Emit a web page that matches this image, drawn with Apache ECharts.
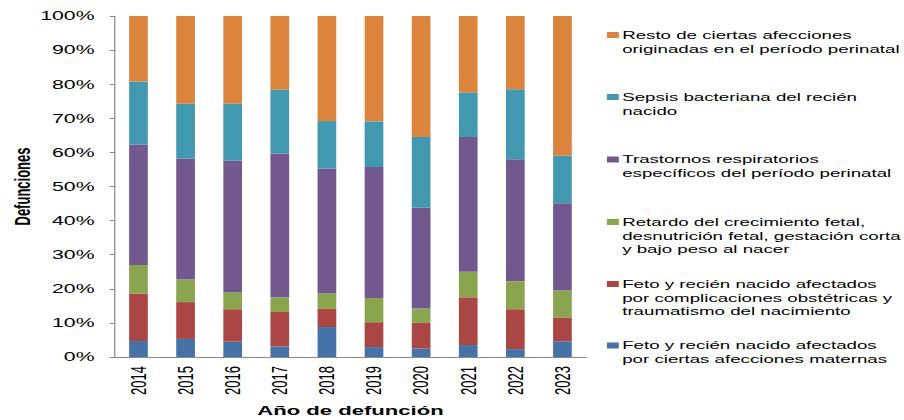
<!DOCTYPE html>
<html>
<head>
<meta charset="utf-8">
<script src="https://cdn.jsdelivr.net/npm/echarts@6/dist/echarts.min.js"></script>
<style>
  html, body { margin: 0; padding: 0; background: #fff; overflow: hidden; }
  /* the reference is a horizontally stretched chart, so draw narrow and stretch */
  #chart { width: 532px; height: 420px; transform: scaleX(1.7); transform-origin: 0 0; }
</style>
</head>
<body>
<div id="chart"></div>
<script>
var years = ['2014', '2015', '2016', '2017', '2018', '2019', '2020', '2021', '2022', '2023'];
var yTicks = [0, 10, 20, 30, 40, 50, 60, 70, 80, 90, 100];

// shares of deaths (%) per year, bottom to top of each bar
var maternas       = [4.7, 5.3, 4.5, 3.1, 8.8, 2.9, 2.5, 3.5, 2.3, 4.6];
var complicaciones = [13.9, 10.8, 9.5, 10.1, 5.3, 7.3, 7.5, 14.0, 11.7, 7.0];
var retardo        = [8.4, 6.6, 5.0, 4.3, 4.6, 7.1, 4.2, 7.5, 8.2, 7.9];
var respiratorios  = [35.3, 35.5, 38.6, 42.2, 36.6, 38.4, 29.6, 39.5, 35.8, 25.6];
var sepsis         = [18.5, 16.1, 16.7, 18.7, 13.9, 13.4, 20.7, 13.1, 20.5, 14.0];
var resto          = [19.2, 25.7, 25.7, 21.6, 30.8, 30.9, 35.5, 22.4, 21.5, 40.9];

var names = [
  'Feto y recién nacido afectados\npor ciertas afecciones maternas',
  'Feto y recién nacido afectados\npor complicaciones obstétricas y\ntraumatismo del nacimiento',
  'Retardo del crecimiento fetal,\ndesnutrición fetal, gestación corta\ny bajo peso al nacer',
  'Trastornos respiratorios\nespecíficos del período perinatal',
  'Sepsis bacteriana del recién\nnacido',
  'Resto de ciertas afecciones\noriginadas en el período perinatal'
];
var values = [maternas, complicaciones, retardo, respiratorios, sepsis, resto];
var colors = ['#4572A7', '#AA4643', '#89A54E', '#71588F', '#4198AF', '#DB843D'];

var font = '"Liberation Sans", Arial, sans-serif';
var lineH = 13.6;

var series = names.map(function (n, i) {
  return {
    name: n,
    type: 'bar',
    stack: 'total',
    barWidth: 11,
    data: values[i],
    itemStyle: { color: colors[i] }
  };
});

// one legend block per series, laid out top-down from the last series
var legendTops = [338.7, 277.2, 215.2, 152.7, 90.2, 28.2];
var legends = names.map(function (n, i) {
  var h = n.split('\n').length * lineH;
  var c = lineH / 2;
  return {
    data: [n],
    orient: 'vertical',
    left: 357,
    top: legendTops[i],
    padding: 0,
    selectedMode: false,
    itemWidth: 7,
    itemHeight: h,
    icon: 'path://M0,' + (c - 3) + 'L7,' + (c - 3) + 'L7,' + (c + 3) + 'L0,' + (c + 3) + 'ZM0,0M7,' + h,
    textStyle: { fontFamily: font, fontSize: 11, lineHeight: lineH, color: '#000', padding: [0, 0, 0, -3] }
  };
});

var option = {
  animation: false,
  textStyle: { fontFamily: font },
  grid: { left: 67.6, right: 187.3, top: 16, bottom: 63, outerBoundsMode: 'none', containLabel: false },
  legend: legends,
  xAxis: {
    type: 'category',
    data: years,
    name: 'Año de defunción',
    nameLocation: 'middle',
    nameGap: 47,
    nameMoveOverlap: false,
    nameTextStyle: { fontFamily: font, fontSize: 13, fontWeight: 'bold', color: '#000' },
    axisLine: { lineStyle: { color: '#888' } },
    axisTick: { length: 5, lineStyle: { color: '#888' } },
    axisLabel: { rotate: 90, fontSize: 13, color: '#000', margin: 9 }
  },
  yAxis: {
    type: 'value',
    min: yTicks[0],
    max: yTicks[yTicks.length - 1],
    interval: 10,
    name: 'Defunciones',
    nameLocation: 'middle',
    nameRotate: 90,
    nameGap: 48,
    nameMoveOverlap: false,
    nameTextStyle: { fontFamily: font, fontSize: 13, fontWeight: 'bold', color: '#000' },
    axisLine: { show: true, lineStyle: { color: '#888', width: 0.7 } },
    axisTick: { show: true, length: 3, lineStyle: { color: '#888' } },
    splitLine: { show: false },
    axisLabel: { formatter: '{value}%', fontSize: 12.5, color: '#000', margin: 12 }
  },
  series: series
};

var myChart = echarts.init(document.getElementById('chart'), null, { renderer: 'svg' });
myChart.setOption(option);
</script>
</body>
</html>
